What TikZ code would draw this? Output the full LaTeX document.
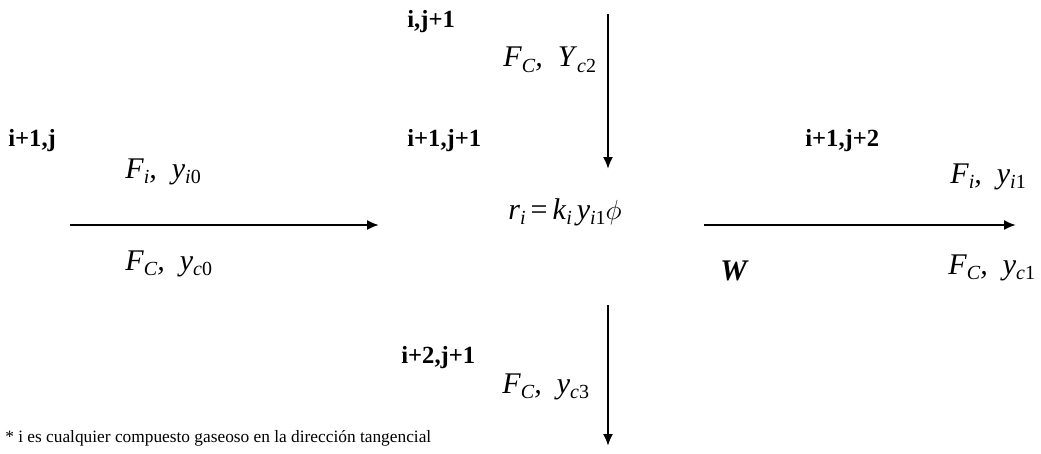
\documentclass[tikz,border=0pt]{standalone}
\usepackage{fontspec}
\setmainfont{Liberation Serif}
\usetikzlibrary{arrows.meta}
\newcommand{\sbs}[1]{\raisebox{-0.4ex}{\fontsize{15}{15}\selectfont #1}}
\begin{document}
\begin{tikzpicture}[x=0.75pt,y=-0.75pt,
  lbl/.style={anchor=base west,inner sep=0pt,font=\fontsize{18.5}{18.5}\selectfont\bfseries},
  var/.style={anchor=base west,inner sep=0pt,font=\fontsize{22.5}{22.5}\selectfont},
  flow/.style={line width=1.5pt,-{Latex[length=9pt,width=7.5pt]}}]
\useasboundingbox (0,0) rectangle (1041,453);
% labels
\node[lbl] (l1) at (8,146) {i+1,j};
\node[lbl] (l2) at (407,28) {i,j+1};
\node[lbl] (l3) at (407,146) {i+1,j+1};
\node[lbl] (l4) at (805,146) {i+1,j+2};
\node[lbl] (l5) at (401,363) {i+2,j+1};
% variables
\node[var] (v1) at (125,178) {\textit{F}\sbs{\textit{i}}\textit{,}\ \ \textit{y}\sbs{\textit{i}0}};
\node[var] (v2) at (125,270) {\textit{F}\sbs{\textit{C}}\textit{,}\ \ \textit{y}\sbs{\textit{c}0}};
\node[var] (v3) at (503,67) {\textit{F}\sbs{\textit{C}}\textit{,}\ \ \textit{Y}\sbs{\textit{c}2}};
\node[var] (v4) at (950,183) {\textit{F}\sbs{\textit{i}}\textit{,}\ \ \textit{y}\sbs{\textit{i}1}};
\node[var] (v5) at (948,274) {\textit{F}\sbs{\textit{C}}\textit{,}\ \ \textit{y}\sbs{\textit{c}1}};
\node[var] (v6) at (502,393) {\textit{F}\sbs{\textit{C}}\textit{,}\ \ \textit{y}\sbs{\textit{c}3}};
\node[var] (rate) at (508,219) {\textit{r}\sbs{\textit{i}}\,=\,\textit{k}\sbs{\textit{i}}\,\textit{y}\sbs{\textit{i}1}$\phi$};
\node[var,font=\fontsize{22.5}{22.5}\selectfont\bfseries\itshape] (w) at (720,280) {W};
\node[anchor=base west,inner sep=0pt,font=\fontsize{13}{13}\selectfont] (note) at (5,442) {* i es cualquier compuesto gaseoso en la dirección tangencial};
% arrow end points
\coordinate (a1) at (70,225);
\coordinate (b1) at (379,225);
\coordinate (a2) at (704,225);
\coordinate (b2) at (1016,225);
\coordinate (a3) at (608,14);
\coordinate (b3) at (608,169);
\coordinate (a4) at (608,305);
\coordinate (b4) at (608,446);
\draw[flow] (a1) -- (b1);
\draw[flow] (a2) -- (b2);
\draw[flow] (a3) -- (b3);
\draw[flow] (a4) -- (b4);
\end{tikzpicture}
\end{document}
